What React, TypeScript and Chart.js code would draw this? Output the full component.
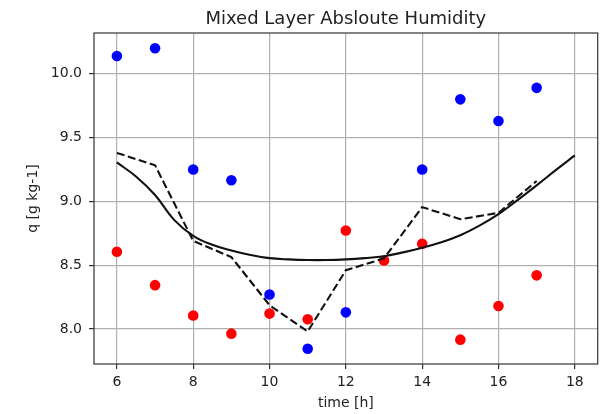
import React, { useEffect, useRef } from 'react';
import { Chart, registerables } from 'chart.js';

Chart.register(...registerables);

// ---- data ----
const hours = [6, 7, 8, 9, 10, 11, 12, 13, 14, 15, 16, 17];
const blueHours = [6, 7, 8, 9, 10, 11, 12, 14, 15, 16, 17];
const blueValues = [10.14, 10.2, 9.25, 9.166, 8.27, 7.845, 8.13, 9.25, 9.8, 9.63, 9.89];
const redValues = [8.605, 8.343, 8.105, 7.963, 8.12, 8.076, 8.772, 8.537, 8.667, 7.916, 8.18, 8.42];
const dashedValues = [9.38, 9.283, 8.69, 8.563, 8.186, 7.98, 8.46, 8.553, 8.955, 8.86, 8.91, 9.16];
const modelHours = [6, 6.5, 7, 7.5, 8, 8.5, 9, 9.5, 10, 10.5, 11, 11.5, 12, 12.5, 13, 13.5, 14, 14.5, 15, 15.5, 16, 16.5, 17, 17.5, 18];
const modelValues = [9.305, 9.195, 9.05, 8.855, 8.73, 8.66, 8.615, 8.58, 8.555, 8.545, 8.54, 8.54, 8.545, 8.555, 8.57, 8.6, 8.637, 8.68, 8.735, 8.81, 8.9, 9.01, 9.125, 9.245, 9.36];
const xTicks = [6, 8, 10, 12, 14, 16, 18];
const yTicks = [8.0, 8.5, 9.0, 9.5, 10.0];

const titleText = 'Mixed Layer Absloute Humidity';
const xLabel = 'time [h]';
const yLabel = 'q [g kg-1]';

const TEXT = '#222';

const framePlugin = {
  id: 'frame',
  afterDraw(chart: any) {
    const { ctx, chartArea: a } = chart;
    ctx.save();
    ctx.strokeStyle = '#333';
    ctx.lineWidth = 1.2;
    ctx.strokeRect(a.left, a.top, a.right - a.left, a.bottom - a.top);
    ctx.restore();
  },
};

export default function App() {
  const ref = useRef<HTMLCanvasElement | null>(null);

  useEffect(() => {
    if (!ref.current) return;
    Chart.defaults.font.family = "'DejaVu Sans', sans-serif";
    const chart = new Chart(ref.current, {
      type: 'scatter',
      data: {
        datasets: [
          {
            type: 'line',
            data: modelHours.map((h, i) => ({ x: h, y: modelValues[i] })),
            borderColor: '#111',
            borderWidth: 2.1,
            pointRadius: 0,
            tension: 0.4,
            showLine: true,
            order: 0,
          } as any,
          {
            type: 'line',
            data: hours.map((h, i) => ({ x: h, y: dashedValues[i] })),
            borderColor: '#111',
            borderWidth: 2.1,
            borderDash: [8, 3.5],
            pointRadius: 0,
            tension: 0,
            showLine: true,
            order: 0,
          } as any,
          {
            data: blueHours.map((h, i) => ({ x: h, y: blueValues[i] })),
            backgroundColor: '#0000ff',
            borderWidth: 0,
            pointRadius: 5.3,
            order: 1,
          },
          {
            data: hours.map((h, i) => ({ x: h, y: redValues[i] })),
            backgroundColor: '#ff0000',
            borderWidth: 0,
            pointRadius: 5.3,
            order: 1,
          },
        ],
      },
      options: {
        animation: false,
        responsive: false,
        devicePixelRatio: 1,
        layout: { padding: { left: 0, right: 2, top: 0, bottom: 0 } },
        plugins: {
          legend: { display: false },
          tooltip: { enabled: false },
          title: {
            display: true,
            text: titleText,
            color: TEXT,
            fullSize: false,
            font: { size: 18, weight: 'normal' },
            padding: { top: 8.4, bottom: 3 },
          } as any,
        },
        scales: {
          x: {
            type: 'linear',
            min: 5.4,
            max: 18.6,
            afterBuildTicks: (s: any) => {
              s.ticks = xTicks.map((v) => ({ value: v }));
            },
            afterFit: (s: any) => {
              s.height = 50;
            },
            ticks: {
              color: TEXT,
              font: { size: 14 },
              padding: 5,
              maxRotation: 0,
              callback: (v: any) => String(v),
            },
            grid: {
              color: '#b0b0b0',
              lineWidth: 1.2,
              tickColor: '#333',
              tickLength: 5,
              tickWidth: 1.2,
            } as any,
            border: { display: false },
            title: {
              display: true,
              text: xLabel,
              color: TEXT,
              font: { size: 14 },
              padding: { top: 0, bottom: 2 },
            },
          },
          y: {
            type: 'linear',
            min: 7.725,
            max: 10.32,
            afterBuildTicks: (s: any) => {
              s.ticks = yTicks.map((v) => ({ value: v }));
            },
            afterFit: (s: any) => {
              s.width = 94;
            },
            ticks: {
              color: TEXT,
              font: { size: 14 },
              padding: 7,
              callback: (v: any) => Number(v).toFixed(1),
            },
            grid: {
              color: '#b0b0b0',
              lineWidth: 1.2,
              tickColor: '#333',
              tickLength: 5,
              tickWidth: 1.2,
            } as any,
            border: { display: false },
            title: {
              display: true,
              text: yLabel,
              color: TEXT,
              font: { size: 14 },
              padding: { top: 24.6, bottom: 0 },
            },
          },
        },
      },
      plugins: [framePlugin],
    });
    return () => chart.destroy();
  }, []);

  return (
    <div style={{ position: 'absolute', left: 0, top: 0, width: 603, height: 414, background: '#fff' }}>
      <canvas ref={ref} width={603} height={414} style={{ display: 'block' }} />
    </div>
  );
}
